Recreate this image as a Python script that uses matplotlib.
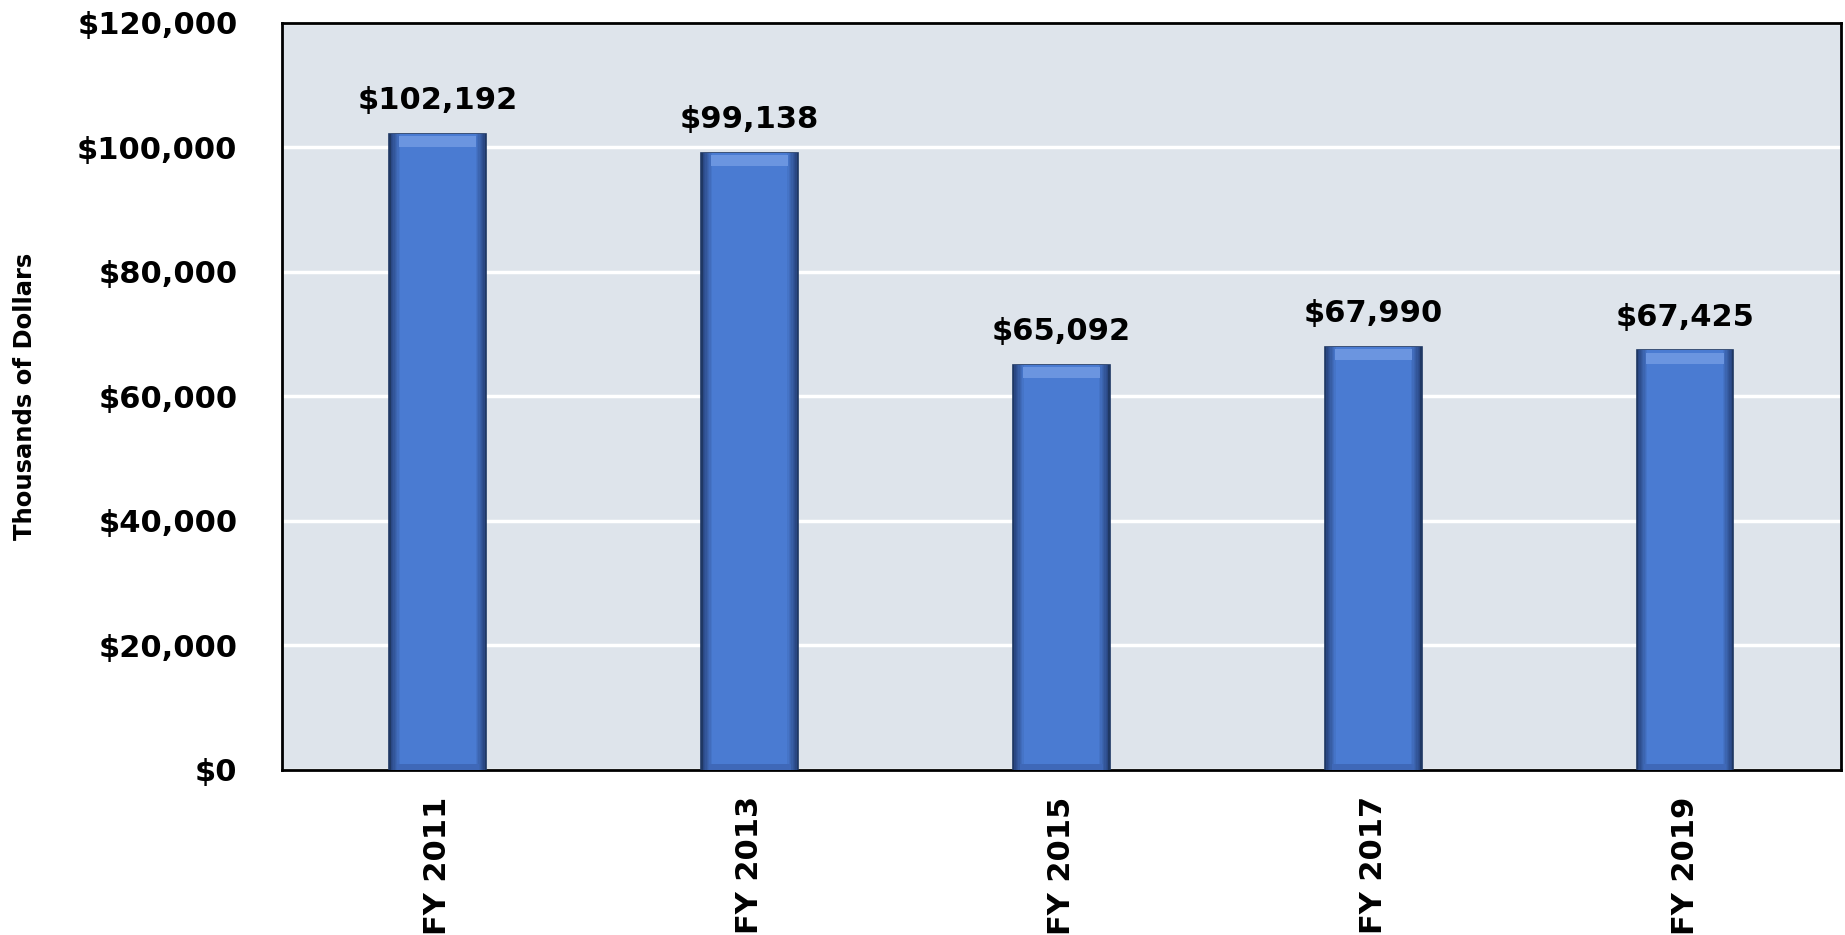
import matplotlib.pyplot as plt
import numpy as np

# data
years = ['FY 2011', 'FY 2013', 'FY 2015', 'FY 2017', 'FY 2019']
values = [102192, 99138, 65092, 67990, 67425]
y_ticks = [0, 20000, 40000, 60000, 80000, 100000, 120000]

plt.rcParams['font.family'] = ['DejaVu Sans']
plt.rcParams['font.weight'] = 'bold'

fig = plt.figure(figsize=(18.45, 9.35), dpi=100)
ax = fig.add_axes([0.1528, 0.1765, 0.845, 0.799])
ax.set_facecolor('#dee4eb')

x = np.arange(len(years))
w = 0.31

# base bar with dark outline
ax.bar(x, values, width=w, color='#1f3864', edgecolor='#1f3864', linewidth=1.2, zorder=3)
# fake bevel: nested bars getting lighter toward the middle
dark = np.array([0x25, 0x40, 0x78]) / 255
mid = np.array([0x4a, 0x7b, 0xd2]) / 255
steps = 8
for k in range(1, steps + 1):
    t = k / steps
    c = dark * (1 - t) + mid * t
    ax.bar(x, values, width=w * (1 - 0.22 * k / steps), color=c, linewidth=0, zorder=3)
# light top band and slight bottom band
ax.bar(x, [1800] * len(x), bottom=[v - 2200 for v in values], width=w * 0.8,
       color='#6b95e0', linewidth=0, zorder=4)
ax.bar(x, [900] * len(x), bottom=0, width=w * 0.85, color='#3f68b8', linewidth=0, zorder=4)

for xi, v in zip(x, values):
    ax.text(xi, v + 3000, '${:,}'.format(v), ha='center', va='bottom',
            fontsize=22, fontweight='bold', color='black', zorder=5)

ax.set_ylim(0, 120000)
ax.set_xlim(-0.5, len(years) - 0.5)
ax.set_yticks(y_ticks)
ax.set_yticklabels(['${:,}'.format(t) for t in y_ticks], fontsize=22, fontweight='bold')
ax.set_xticks(x)
ax.set_xticklabels(years, rotation=90, fontsize=22, fontweight='bold')
ax.tick_params(axis='both', length=0)
ax.tick_params(axis='y', pad=32)
ax.tick_params(axis='x', pad=19)

ax.yaxis.grid(True, color='white', linewidth=2.5, zorder=0)
ax.set_axisbelow(True)
for s in ax.spines.values():
    s.set_color('black')
    s.set_linewidth(2)

ax.set_ylabel('Thousands of Dollars', fontsize=17.5, fontweight='bold')
ax.yaxis.set_label_coords(-0.157, 0.5)

fig.savefig('out.png', dpi=100)
